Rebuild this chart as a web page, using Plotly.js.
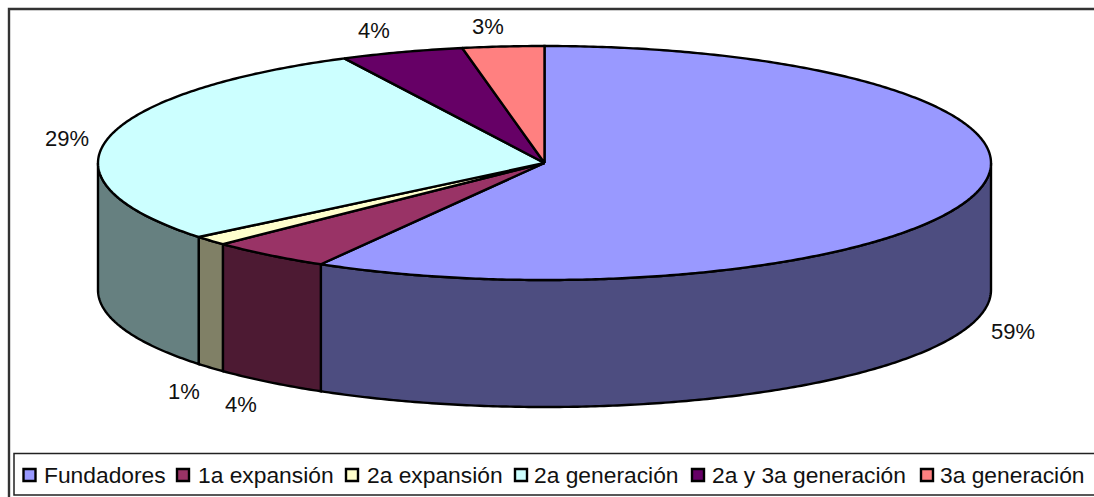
<!DOCTYPE html>
<html>
<head>
<meta charset="utf-8">
<script src="https://cdn.plot.ly/plotly-3.0.1.min.js"></script>
<style>html,body{margin:0;padding:0;background:#fff;overflow:hidden}#c{width:1094px;height:497px}</style>
</head>
<body>
<div id="c"></div>
<script>
// data
var categories = ['Fundadores','1a expansión','2a expansión','2a generación','2a y 3a generación','3a generación'];
var shares = [58.35, 4.45, 1.3, 28.5, 4.45, 2.95];
var shareLabels = ['59%','4%','1%','29%','4%','3%'];
// styles
var topColors = ['#9999FF','#993366','#FFFFCC','#CCFFFF','#660066','#FF8080'];
var sideColors = ['#4D4D80','#4D1A33','#808066','#668080','#330033','#804040'];
// layout geometry (pixels)
var CX = 544.5, CY = 163, RX = 446.5, RY = 117, DEPTH = 127;
var labelX = [1013,241,184,67,374,488], labelY = [331,404,391,138,30,26];
var swatchX = [29.5,183,352,521,698,927], textX = [44,198,367,534,712,940];
var LEG_Y = 475;
var FONT = 'Liberation Sans, Arial, sans-serif';

function px(t){ return CX + RX*Math.sin(t); }
function py(t,d){ return CY - RY*Math.cos(t) + (d||0); }
function arc(a,b,d){
  var xs=[],ys=[],n=Math.max(2,Math.ceil(Math.abs(b-a)/0.01));
  for(var i=0;i<=n;i++){var t=a+(b-a)*i/n;xs.push(px(t));ys.push(py(t,d));}
  return {x:xs,y:ys};
}
function poly(x,y,fill){
  return {type:'scatter',mode:'lines',x:x,y:y,fill:'toself',fillcolor:fill,
    line:{color:'#000',width:2.4,simplify:false},hoverinfo:'skip',showlegend:false};
}
var total = shares.reduce(function(a,b){return a+b;},0), traces=[], sides=[], tops=[], cum=0;
shares.forEach(function(v,i){
  var a=cum/total*2*Math.PI; cum+=v; var b=cum/total*2*Math.PI;
  var sa=Math.max(a,Math.PI/2), sb=Math.min(b,1.5*Math.PI);
  if(sb>sa){
    var u=arc(sa,sb,0), l=arc(sb,sa,DEPTH);
    sides.push(poly(u.x.concat(l.x,[u.x[0]]),u.y.concat(l.y,[u.y[0]]),sideColors[i]));
  }
  var r=arc(a,b,0);
  tops.push(poly([CX].concat(r.x,[CX]),[CY].concat(r.y,[CY]),topColors[i]));
});
traces=sides.concat(tops);
categories.forEach(function(c,i){
  traces.push({type:'scatter',mode:'markers',x:[swatchX[i]],y:[LEG_Y],name:c,showlegend:false,hoverinfo:'skip',
    marker:{symbol:'square',size:12,color:topColors[i],line:{color:'#000',width:2.4}}});
});
var ann=[];
shareLabels.forEach(function(s,i){
  ann.push({x:labelX[i],y:labelY[i],text:s,showarrow:false,xanchor:'center',yanchor:'middle',
    font:{family:FONT,size:22,color:'#111'}});
});
categories.forEach(function(c,i){
  ann.push({x:textX[i],y:LEG_Y,text:c,showarrow:false,xanchor:'left',yanchor:'middle',xshift:-2,
    font:{family:FONT,size:22.8,color:'#111'}});
});
var layout={
  width:1094,height:497,margin:{l:0,r:0,t:0,b:0},paper_bgcolor:'#fff',plot_bgcolor:'#fff',showlegend:false,
  xaxis:{range:[0,1094],visible:false,fixedrange:true},
  yaxis:{range:[497,0],visible:false,fixedrange:true},
  annotations:ann,
  shapes:[
    {type:'path',path:'M9,497 L9,9 L1094,9',line:{color:'#333',width:2.4},layer:'below'},
    {type:'rect',x0:14,y0:453.5,x1:1110,y1:495,line:{color:'#222',width:1.5},layer:'below'}
  ]
};
Plotly.newPlot('c',traces,layout,{displayModeBar:false,staticPlot:true});
</script>
</body>
</html>
